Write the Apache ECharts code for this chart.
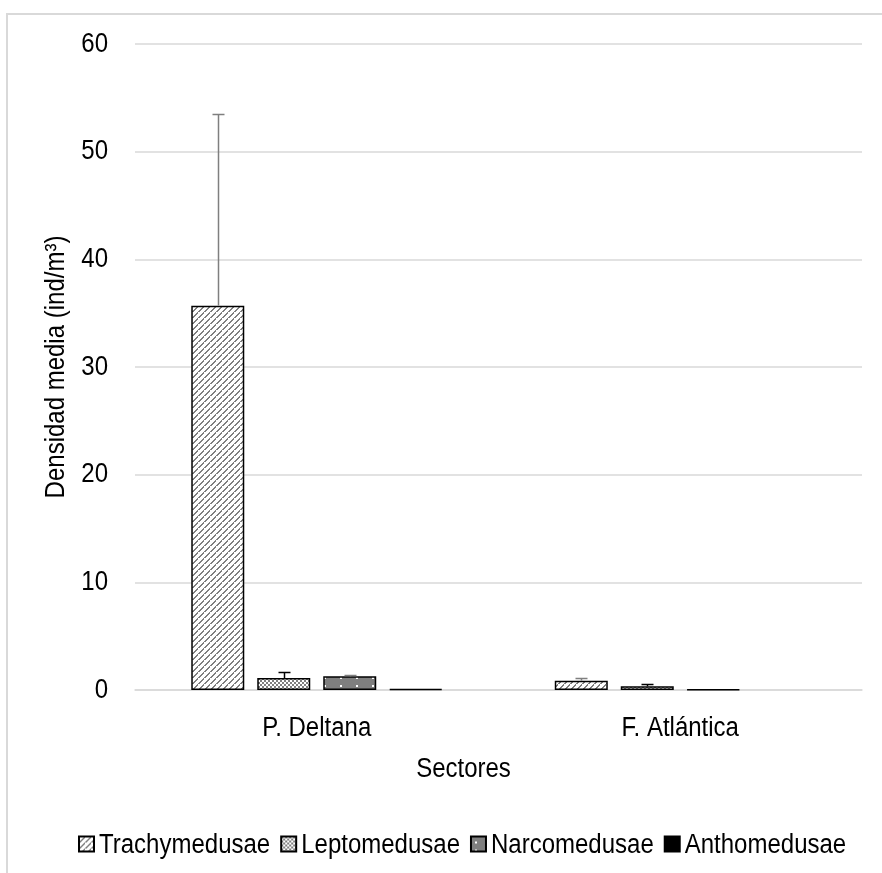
<!DOCTYPE html>
<html>
<head>
<meta charset="utf-8">
<script src="https://cdn.jsdelivr.net/npm/echarts@6/dist/echarts.min.js"></script>
<style>html,body{margin:0;padding:0;background:#fff}#c{width:882px;height:873px}</style>
</head>
<body>
<div id="c"></div>
<script>
var categories = ['P. Deltana', 'F. Atlántica'];
var seriesNames = ['Trachymedusae', 'Leptomedusae', 'Narcomedusae', 'Anthomedusae'];
var trachy = [35.7, 0.87];
var trachyErr = [17.8, 0.24];
var lepto = [1.11, 0.34];
var leptoErr = [0.53, 0.19];
var narco = [1.27, 0.06];
var narcoErr = [0.09, 0];
var antho = [0.09, null];
var anthoErr = [0, 0];
var yTicks = [0, 10, 20, 30, 40, 50, 60];

var FONT = "'Liberation Sans', Arial, sans-serif";
var TEXT_STRETCH = 1.15;

function makeTile(w, h, draw) {
  var c = document.createElement('canvas');
  c.width = w; c.height = h;
  var ctx = c.getContext('2d');
  draw(ctx);
  return c;
}
var hatch = makeTile(6, 6, function (ctx) {
  ctx.fillStyle = '#fff'; ctx.fillRect(0, 0, 6, 6);
  ctx.fillStyle = '#7f7f7f';
  for (var i = 0; i < 6; i++) {
    ctx.fillRect((5 - i + 6) % 6, i, 2, 1);
  }
});
var checker = makeTile(4, 4, function (ctx) {
  ctx.fillStyle = '#fff'; ctx.fillRect(0, 0, 4, 4);
  ctx.fillStyle = '#7f7f7f';
  ctx.fillRect(0, 0, 2, 2); ctx.fillRect(2, 2, 2, 2);
});
var dots = makeTile(16, 8, function (ctx) {
  ctx.fillStyle = '#7f7f7f'; ctx.fillRect(0, 0, 16, 8);
  ctx.fillStyle = '#fff'; ctx.fillRect(4, 5, 2, 2);
});

var values = [trachy, lepto, narco, antho];
var errs = [trachyErr, leptoErr, narcoErr, anthoErr];
var fills = [
  { image: hatch, repeat: 'repeat' },
  { image: checker, repeat: 'repeat' },
  { image: dots, repeat: 'repeat' },
  '#000000'
];
var errColors = ['#7f7f7f', '#000000', '#7f7f7f', '#000000'];
var BAR_W = 53, STEP = 66;

var series = [];
seriesNames.forEach(function (name, i) {
  series.push({
    name: name, type: 'bar', barWidth: BAR_W, barGap: '24.5%',
    data: values[i],
    itemStyle: { color: fills[i], borderColor: '#000', borderWidth: 1.5 },
    emphasis: { disabled: true }
  });
});
seriesNames.forEach(function (name, i) {
  series.push({
    type: 'custom', silent: true, z: 5,
    data: values[i].map(function (v, k) { return [k, v == null ? 0 : v, errs[i][k]]; }),
    encode: { x: 0, y: 1 },
    renderItem: function (params, api) {
      var e = api.value(2);
      if (!e) return null;
      var v = api.value(1);
      var b = api.coord([api.value(0), v]);
      var t = api.coord([api.value(0), v + e]);
      var cx = Math.round(b[0] + (i - 1.5) * STEP) + 0.5;
      var ty = Math.round(t[1]) + 0.5;
      return { type: 'group', children: [
        { type: 'line', shape: { x1: cx, y1: b[1], x2: cx, y2: ty }, style: { stroke: errColors[i], lineWidth: 1.5 } },
        { type: 'line', shape: { x1: cx - 6, y1: ty, x2: cx + 6, y2: ty }, style: { stroke: errColors[i], lineWidth: 1.5 } }
      ] };
    }
  });
});

var chart = echarts.init(document.getElementById('c'), null, { renderer: 'canvas' });
chart.setOption({
  animation: false,
  backgroundColor: '#fff',
  textStyle: { fontFamily: FONT, color: '#000' },
  graphic: [{ type: 'rect', shape: { x: 7, y: 14, width: 912, height: 900 }, style: { fill: 'none', stroke: '#d9d9d9', lineWidth: 2 }, silent: true }],
  grid: { left: 135, right: 20, top: 44, bottom: 183 },
  legend: {
    data: seriesNames, top: 832, left: 78, icon: 'rect',
    padding: 0,
    itemWidth: 15, itemHeight: 15, itemGap: 10,
    textStyle: { fontFamily: FONT, fontSize: 24, color: '#000' }
  },
  xAxis: {
    type: 'category', data: categories,
    name: 'Sectores', nameLocation: 'middle', nameGap: 66,
    nameTextStyle: { fontFamily: FONT, fontSize: 24, color: '#000', padding: [0, 70, 0, 0] },
    axisLine: { lineStyle: { color: '#d9d9d9', width: 1.5 } },
    axisTick: { show: false },
    axisLabel: { fontFamily: FONT, fontSize: 24, color: '#000', margin: 25 }
  },
  yAxis: {
    type: 'value', min: yTicks[0], max: yTicks[yTicks.length - 1], interval: 10,
    name: 'Densidad media (ind/m³)', nameLocation: 'middle', nameGap: 63,
    nameTextStyle: { fontFamily: FONT, fontSize: 24, color: '#000' },
    axisLine: { show: false }, axisTick: { show: false },
    splitLine: { lineStyle: { color: '#d9d9d9', width: 1.5 } },
    axisLabel: { fontFamily: FONT, fontSize: 24, color: '#000', margin: 27 }
  },
  series: series
});

// The reference type is a tall, narrow Arial: stretch the glyphs vertically.
(function stretch(el) {
  if (el.type === 'text') { el.scaleY = TEXT_STRETCH; el.markRedraw(); }
  if (el.isGroup) el.children().forEach(stretch);
})({ isGroup: true, children: function () { return chart.getZr().storage.getRoots(); } });
chart.getZr().refreshImmediately();
</script>
</body>
</html>
